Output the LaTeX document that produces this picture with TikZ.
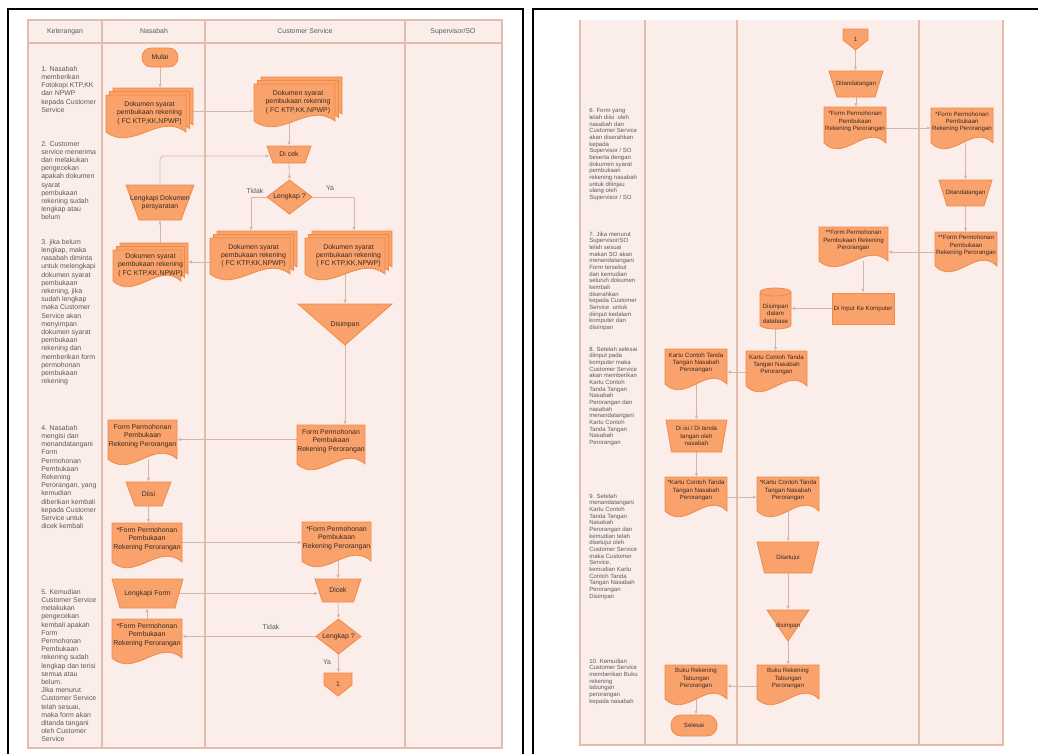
\documentclass[tikz,border=0pt]{standalone}
\usepackage{fontspec}
\setmainfont{Liberation Sans}
\usetikzlibrary{arrows.meta,calc,backgrounds}
\definecolor{shfill}{HTML}{F9A26C}
\definecolor{shdraw}{HTML}{EF8A47}
\definecolor{lane}{HTML}{FBEEEA}
\definecolor{laneline}{HTML}{E4BCAC}
\definecolor{arrowc}{HTML}{D8B6A6}
\definecolor{txtc}{HTML}{3A2A22}
\definecolor{ketc}{HTML}{5A5A5A}
\tikzset{
 shp/.style={fill=shfill, draw=shdraw, line width=0.6pt},
 nbox/.style={inner sep=0pt, outer sep=0pt},
 lbl/.style={inner sep=0pt, text=txtc, align=center, font=\fontsize{5.2}{6.2}\selectfont},
 lblr/.style={lbl, font=\fontsize{4.6}{5.5}\selectfont},
 ket/.style={anchor=north west, inner sep=0pt, align=left, text=ketc, font=\fontsize{5.2}{6.15}\selectfont},
 ketr/.style={ket, font=\fontsize{4.5}{5.0}\selectfont},
 hdr/.style={inner sep=0pt, text=ketc, font=\fontsize{5.2}{6.2}\selectfont},
 arr/.style={draw=arrowc, line width=0.6pt, -{Latex[length=3pt,width=2.6pt]}},
 laned/.style={draw=laneline, line width=0.8pt},
 frame/.style={draw=black, line width=1.8pt},
}
% document shape path: cx cy w h (top to wave baseline)
\newcommand{\DocPath}[4]{%
 \path[shp] ({#1-#3/2},{#2-#4/2}) -- ({#1+#3/2},{#2-#4/2}) -- ({#1+#3/2},{#2+#4/2})
  .. controls ({#1+#3/6},{#2+#4/2-20}) and ({#1-#3/6},{#2+#4/2+20}) .. ({#1-#3/2},{#2+#4/2}) -- cycle;}
\newcommand{\DocN}[7][lbl]{%
 \DocPath{#3}{#4}{#5}{#6}
 \node[nbox, minimum width=#5*0.75pt, minimum height=#6*0.75pt] (#2) at (#3,#4) {};
 \node[#1] (#2t) at (#3,{#4-3.5}) {#7};}
\newcommand{\MDocN}[6]{%
 \DocPath{#2+7}{#3-7}{#4}{#5}
 \DocPath{#2+3.5}{#3-3.5}{#4}{#5}
 \DocPath{#2}{#3}{#4}{#5}
 \node[nbox, minimum width=#4*0.75pt, minimum height=#5*0.75pt] (#1) at (#2,#3) {};
 \node[lbl] (#1t) at ({#2+3.5},{#3-0.5}) {#6};}
% trapezoid: style name cx cy wtop wbot h text
\newcommand{\TrapN}[8][lbl]{%
 \path[shp] ({#3-#5/2},{#4-#7/2}) -- ({#3+#5/2},{#4-#7/2}) -- ({#3+#6/2},{#4+#7/2}) -- ({#3-#6/2},{#4+#7/2}) -- cycle;
 \node[#1, minimum width={(#5+#6)/2*0.75pt}, minimum height=#7*0.75pt] (#2) at (#3,#4) {#8};}
% diamond: name cx cy w h text
\newcommand{\DiaN}[6]{%
 \path[shp] ({#2},{#3-#5/2}) -- ({#2+#4/2},{#3}) -- ({#2},{#3+#5/2}) -- ({#2-#4/2},{#3}) -- cycle;
 \node[lbl, minimum width=#4*0.75pt, minimum height=#5*0.75pt] (#1) at (#2,#3) {#6};}
% inverted triangle
\newcommand{\TriN}[7][lbl]{%
 \path[shp] ({#3-#5/2},{#4-#6/2}) -- ({#3+#5/2},{#4-#6/2}) -- ({#3},{#4+#6/2}) -- cycle;
 \node[#1, minimum width=#5*0.75pt, minimum height=#6*0.75pt] (#2) at (#3,#4) {#7};}
% off-page connector
\newcommand{\OffN}[7][lbl]{%
 \path[shp] ({#3-#5/2},{#4-#6/2}) -- ({#3+#5/2},{#4-#6/2}) -- ({#3+#5/2},{#4+#6/2-#6*0.48}) -- ({#3},{#4+#6/2}) -- ({#3-#5/2},{#4+#6/2-#6*0.48}) -- cycle;
 \node[#1, minimum width=#5*0.75pt, minimum height=#6*0.75pt] (#2) at (#3,#4) {#7};}
% database cylinder
\newcommand{\DbN}[7][lbl]{%
 \path[shp] ({#3-#5/2},{#4-#6/2+4}) -- ({#3-#5/2},{#4+#6/2-4}) arc[start angle=180,end angle=360,x radius={#5*0.375pt},y radius=3pt]
   -- ({#3+#5/2},{#4-#6/2+4}) arc[start angle=0,end angle=180,x radius={#5*0.375pt},y radius=3pt] -- cycle;
 \draw[draw=shdraw, line width=0.6pt] ({#3-#5/2},{#4-#6/2+4}) arc[start angle=180,end angle=360,x radius={#5*0.375pt},y radius=3pt];
 \node[nbox, minimum width=#5*0.75pt, minimum height=#6*0.75pt] (#2) at (#3,#4) {};
 \node[#1] (#2t) at (#3,{#4+5}) {#7};}

\begin{document}
\begin{tikzpicture}[x=0.75pt,y=-0.75pt]
\useasboundingbox (0,0) rectangle (1038,753);
\begin{scope}[on background layer]
% swimlanes left
\fill[lane] (28,20) rectangle (502,748);
\draw[laned] (28,20) rectangle (502,748);
\draw[laned] (28,43) -- (502,43);
\draw[laned] (102,20) -- (102,748);
\draw[laned] (205,20) -- (205,748);
\draw[laned] (405,20) -- (405,748);
% swimlanes right
\fill[lane] (580,20) rectangle (1003,745);
\draw[laned] (580,20) -- (580,745) -- (1003,745) -- (1003,20);
\draw[laned] (645,20) -- (645,745);
\draw[laned] (737,20) -- (737,745);
\draw[laned] (919,20) -- (919,745);
\end{scope}
% frames
\draw[frame] (8,790) -- (8,9) -- (523,9) -- (523,790);
\draw[frame] (533,790) -- (533,9) -- (1060,9);

% headers
\node[hdr] (h1) at (65,31.5) {Keterangan};
\node[hdr] (h2) at (154,31.5) {Nasabah};
\node[hdr] (h3) at (305,31.5) {Customer Service};
\node[hdr] (h4) at (453,31.5) {Supervisor/SO};

% keterangan left
\node[ket] (k1) at (41,66) {1. Nasabah\\memberikan\\Fotokopi KTP,KK\\dan NPWP\\kepada Customer\\Service};
\node[ket] (k2) at (41,141) {2. Customer\\service menerima\\dan melakukan\\pengecekan\\apakah dokumen\\syarat\\pembukaan\\rekening sudah\\lengkap atau\\belum};
\node[ket] (k3) at (41,239) {3. jika belum\\lengkap, maka\\nasabah diminta\\untuk melengkapi\\dokumen syarat\\pembukaan\\rekening, jika\\sudah lengkap\\maka Customer\\Service akan\\menyimpan\\dokumen syarat\\pembukaan\\rekening dan\\memberikan form\\permohonan\\pembukaan\\rekening};
\node[ket] (k4) at (41,425) {4. Nasabah\\mengisi dan\\menandatangani\\Form\\Permohonan\\Pembukaan\\Rekening\\Perorangan, yang\\kemudian\\diberikan kembali\\kepada Customer\\Service untuk\\dicek kembali};
\node[ket] (k5) at (41,589) {5. Kemudian\\Customer Service\\melakukan\\pengecekan\\kembali apakah\\Form\\Permohonan\\Pembukaan\\rekening sudah\\lengkap dan terisi\\semua atau\\belum.\\Jika menurut\\Customer Service\\telah sesuai,\\maka form akan\\ditanda tangani\\oleh Customer\\Service};

% keterangan right
\node[ketr] (k6) at (589,108.5) {6. Form yang\\telah diisi\ \ oleh\\nasabah dan\\Customer Service\\akan diserahkan\\kepada\\Supervisor / SO\\beserta dengan\\dokumen syarat\\pembukaan\\rekening nasabah\\untuk ditinjau\\ulang oleh\\Supervisor / SO};
\node[ketr] (k7) at (589,231.5) {7. Jika menurut\\Supervisor/SO\\telah sesuai\\makan SO akan\\menandatangani\\Form tersebut\\dan kemudian\\seluruh dokumen\\kembali\\diserahkan\\kepada Customer\\Service\ \ untuk\\diinput kedalam\\komputer dan\\disimpan};
\node[ketr] (k8) at (589,346.5) {8. Setelah selesai\\diinput pada\\komputer maka\\Customer Service\\akan memberikan\\Kartu Contoh\\Tanda Tangan\\Nasabah\\Perorangan dan\\nasabah\\menandatangani\\Kartu Contoh\\Tanda Tangan\\Nasabah\\Perorangan};
\node[ketr] (k9) at (589,493.5) {9. Setelah\\menandatangani\\Kartu Contoh\\Tanda Tangan\\Nasabah\\Perorangan dan\\kemudian telah\\disetujui oleh\\Customer Service\\maka Customer\\Service,\\kemudian Kartu\\Contoh Tanda\\Tangan Nasabah\\Perorangan\\Disimpan};
\node[ketr] (k10) at (589,658.5) {10. Kemudian\\Customer Service\\memberikan Buku\\rekening\\tabungan\\perorangan\\kepada nasabah};

% ---------- left page shapes ----------
\node[shp, lbl, rounded corners=7pt, minimum width=27pt, minimum height=14.25pt] (mulai) at (160,57.5) {Mulai};
\MDocN{s1}{146}{113.5}{80}{37}{Dokumen syarat\\pembukaan rekening\\( FC KTP,KK,NPWP)}
\MDocN{s2}{294.5}{102.5}{81}{37}{Dokumen syarat\\pembukaan rekening\\( FC KTP,KK,NPWP)}
\TrapN{dicek}{289}{154.5}{44}{32}{17}{Di cek}
\DiaN{lk1}{289.5}{197}{45}{34}{Lengkap ?}
\MDocN{s3}{250}{256}{80}{36}{Dokumen syarat\\pembukaan rekening\\( FC KTP,KK,NPWP)}
\MDocN{s4}{345}{256}{80}{36}{Dokumen syarat\\pembukaan rekening\\( FC KTP,KK,NPWP)}
\MDocN{s5}{147}{265.5}{68}{31}{Dokumen syarat\\pembukaan rekening\\( FC KTP,KK,NPWP)}
\TrapN{lkd}{160}{202.5}{68}{42}{35}{Lengkapi Dokumen\\persyaratan}
\TriN{dis}{345}{324.5}{94}{41}{Disimpan}
\DocN{fcs1}{331}{444.5}{68}{39}{Form Permohonan\\Pembukaan\\Rekening Perorangan}
\DocN{fn1}{142.5}{439.5}{69}{39}{Form Permohonan\\Pembukaan\\Rekening Perorangan}
\TrapN{diisi}{148.5}{494}{45}{27}{24}{Diisi}
\DocN{fn2}{147}{542.5}{70}{39}{*Form Permohonan\\Pembukaan\\Rekening Perorangan}
\DocN{fcs2}{336.5}{541.5}{69}{39}{*Form Permohonan\\Pembukaan\\Rekening Perorangan}
\TrapN{dicek2}{338}{590.5}{46}{31}{23}{Dicek}
\TrapN{lf}{147.5}{593.5}{71}{55}{29}{Lengkapi Form}
\DiaN{lk2}{338.5}{636.5}{45}{35}{Lengkap ?}
\DocN{fn3}{147}{638.5}{70}{39}{*Form Permohonan\\Pembukaan\\Rekening Perorangan}
\OffN{c1}{338}{684.5}{28}{23}{1}

% ---------- right page shapes ----------
\OffN[lblr]{c1r}{855.5}{39.5}{25}{21}{1}
\TrapN[lblr]{dt1}{856}{84}{54}{38}{26}{Ditandatangan}
\DocN[lblr]{rf1}{855}{125}{62}{36}{*Form Permohonan\\Pembukaan\\Rekening Perorangan}
\DocN[lblr]{rf2}{962}{125.5}{62}{35}{*Form Permohonan\\Pembukaan\\Rekening Perorangan}
\TrapN[lblr]{dt2}{965.5}{193}{53}{37}{26}{Ditandatangan}
\DocN[lblr]{rf3}{966}{249}{62}{34}{**Form Permohonan\\Pembukaan\\Rekening Perorangan}
\DocN[lblr]{rf4}{853.5}{244}{69}{34}{**Form Permohonan\\Pembukaan Rekening\\Perorangan}
\node[shp, lblr, minimum width=46.5pt, minimum height=23.25pt] (inp) at (863,308.5) {Di Input Ke Komputer};
\DbN[lblr]{db}{775.5}{308.5}{31}{41}{Disimpan\\dalam\\database}
\DocN[lblr]{kc1}{776.5}{368.5}{61}{35}{Kartu Contoh Tanda\\Tangan Nasabah\\Perorangan}
\DocN[lblr]{kn1}{696}{366.5}{62}{35}{Kartu Contoh Tanda\\Tangan Nasabah\\Perorangan}
\TrapN[lblr]{dii}{696.5}{436}{61}{50}{32}{Di isi / Di tanda\\tangan oleh\\nasabah}
\DocN[lblr]{kn2}{696}{494}{62}{34}{*Kartu Contoh Tanda\\Tangan Nasabah\\Perorangan}
\DocN[lblr]{kc2}{788}{494}{62}{34}{*Kartu Contoh Tanda\\Tangan Nasabah\\Perorangan}
\TrapN[lblr]{dst}{788}{557.5}{62}{47}{31}{Disetujui}
\TriN[lblr]{dsp}{788}{625.5}{42}{31}{disimpan}
\DocN[lblr]{bc}{788}{682}{62}{34}{Buku Rekening\\Tabungan\\Perorangan}
\DocN[lblr]{bn}{696}{682}{62}{34}{Buku Rekening\\Tabungan\\Perorangan}
\node[shp, lblr, rounded corners=7.5pt, minimum width=34.5pt, minimum height=15.75pt] (sel) at (694,725.5) {Selesai};

% labels
\node[hdr] (tidak1) at (255,191) {Tidak};
\node[hdr] (ya1) at (330,188) {Ya};
\node[hdr] (tidak2) at (271,627) {Tidak};
\node[hdr] (ya2) at (327,662) {Ya};

% helper coordinates
\coordinate (s1top) at ($(s1.north)+(0,-7)$);
\coordinate (s1r) at ($(s1.east)+(7,-2.5)$);
\coordinate (s3top) at ($(s3.north)+(1,-7)$);
\coordinate (s4top) at ($(s4.north)+(9,-7)$);
\coordinate (s3l) at ($(s3.west)+(0,6)$);
\coordinate (s5r) at ($(s5.east)+(7,0)$);
\coordinate (s5top) at ($(s5.north)+(0,-7)$);
\coordinate (dicekl) at ($(dicek.west)+(0,1.5)$);
\coordinate (fcs1l) at ($(fcs1.west)+(0,-5)$);
\coordinate (rf1r) at ($(rf1.east)+(0,3)$);
\coordinate (rf3l) at ($(rf3.west)+(0,3)$);
\coordinate (kc1l) at ($(kc1.west)+(0,3.5)$);
\coordinate (kn2r) at ($(kn2.east)+(0,3)$);
\coordinate (bcl) at ($(bc.west)+(0,4)$);

\begin{scope}[on background layer]
% left page connectors
\draw[arr] (mulai.south) -- (mulai.south |- s1top);
\draw[arr] (s1r) -- (s1r -| s2.west);
\draw[arr] (dicek.north |- s2.south) -- (dicek.north);
\draw[arr] (dicek.south) -- (lk1.north);
\draw[arr] (lk1.west) -| (s3top);
\draw[arr] (lk1.east) -| (s4top);
\draw[arr] (s3l) -- (s3l -| s5r);
\draw[arr] (lkd.south |- s5top) -- (lkd.south);
\draw[arr, rounded corners=3pt] (lkd.north) |- (dicekl);
\draw[arr] (s4.south) -- (s4.south |- dis.north);
\draw[arr] (dis.south) -- (dis.south |- fcs1.north);
\draw[arr] (fcs1l) -- (fcs1l -| fn1.east);
\draw[arr] (diisi.north |- fn1.south) -- (diisi.north);
\draw[arr] (diisi.south) -- (diisi.south |- fn2.north);
\draw[arr] (fn2.east) -- (fn2.east -| fcs2.west);
\draw[arr] (dicek2.north |- fcs2.south) -- (dicek2.north);
\draw[arr] (lf.east) -- (lf.east -| dicek2.west);
\draw[arr] (dicek2.south) -- (lk2.north);
\draw[arr] (lk2.west) -- (lk2.west -| fn3.east);
\draw[arr] (fn3.north) -- (fn3.north |- lf.south);
\draw[arr] (lk2.south) -- (lk2.south |- c1.north);
% right page connectors
\draw[arr] (c1r.south) -- (c1r.south |- dt1.north);
\draw[arr] (dt1.south) -- (dt1.south |- rf1.north);
\draw[arr] (rf1r) -- (rf1r -| rf2.west);
\draw[arr] (dt2.north |- rf2.south) -- (dt2.north);
\draw[arr] (dt2.south) -- (dt2.south |- rf3.north);
\draw[arr] (rf3l) -- (rf3l -| rf4.east);
\draw[arr] (inp.north |- rf4.south) -- (inp.north);
\draw[arr] (inp.west) -- (inp.west -| db.east);
\draw[arr] (db.south) -- (db.south |- kc1.north);
\draw[arr] (kc1l) -- (kc1l -| kn1.east);
\draw[arr] (dii.north |- kn1.south) -- (dii.north);
\draw[arr] (dii.south) -- (dii.south |- kn2.north);
\draw[arr] (kn2r) -- (kn2r -| kc2.west);
\draw[arr] (kc2.south) -- (kc2.south |- dst.north);
\draw[arr] (dst.south) -- (dst.south |- dsp.north);
\draw[arr] (dsp.south) -- (dsp.south |- bc.north);
\draw[arr] (bcl) -- (bcl -| bn.east);
\draw[arr] (bn.south) -- (bn.south |- sel.north);
\end{scope}
\end{tikzpicture}
\end{document}
